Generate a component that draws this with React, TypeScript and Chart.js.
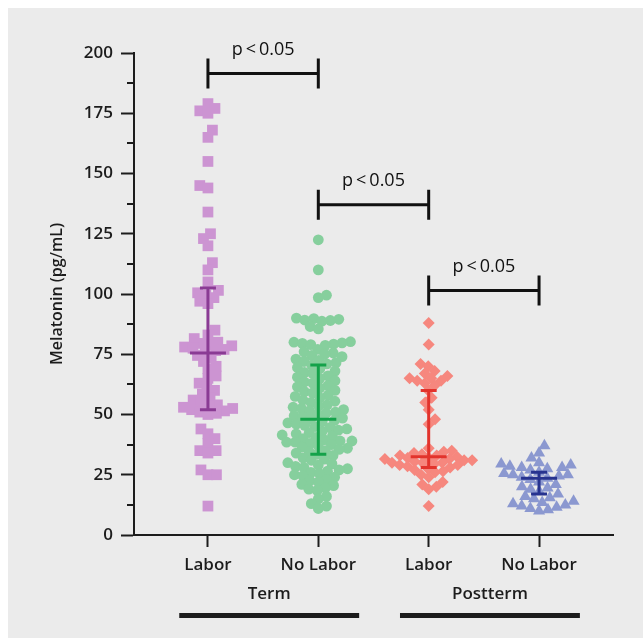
import React, { useEffect, useRef } from 'react';
import { Chart, registerables } from 'chart.js';
Chart.register(...registerables);

// ---------- data ----------
const CATEGORIES = ['Labor', 'No Labor', 'Labor', 'No Labor'];
const GROUPS = ['Term', 'Postterm'];

const TERM_LABOR = [
  179, 177, 176, 175, 168, 165, 155, 145, 144, 134, 125, 123, 120, 113, 110, 105,
  101.5, 100.5, 99.5, 98.5, 97, 96,
  85, 83, 81.5,
  80, 79.5, 79, 78.5, 78, 77.5, 77, 76.5, 76,
  74.5, 73.5, 72, 70, 69,
  66, 65, 63, 61.5, 60, 58.5, 57, 56, 55,
  54, 53.5, 53, 52.5, 52, 51.5, 51, 50.5, 50,
  44, 42, 40, 38, 35, 35, 34, 27, 25, 25, 12,
];
const TERM_NOLABOR = [
  122.5, 110, 99.5, 98.5,
  90, 89.8, 89.5, 89.2, 89, 88.7,
  86.5, 85.5,
  80.2, 80, 79.7, 79.5, 79.2, 79, 78.7,
  77, 76, 75.5, 75, 74.5, 74,
  73, 72.5, 72, 71.5, 71, 70.5,
  69.5, 69, 68, 67.5, 67, 66,
  65.5, 65, 64, 63.5, 63, 62,
  61.5, 61, 60, 59.5, 59, 58,
  57.5, 57, 56, 55.5, 55, 54,
  53.5, 53, 52.5, 52, 51.5, 51, 50.5, 50,
  49.5, 49, 48.5, 48, 47.5, 47, 46.5, 46,
  45.5, 45, 44.5, 44, 43.5, 43, 42.5, 42,
  41.5, 41, 40.5, 40, 39.5, 39, 39, 38.5, 38.5, 38,
  37.5, 37, 36.5, 36, 35.5, 35, 34.5, 34,
  33.5, 33, 32, 31.5, 31, 30,
  29.5, 29, 28.5, 28, 27.5, 27, 26.5, 26,
  25.5, 25, 24.5, 24, 23, 22.5, 22,
  21, 20.5, 19.5, 19, 18.5,
  16, 15, 13, 12, 11,
];
const POST_LABOR = [
  88, 79, 71, 70, 68, 67, 66, 65, 65, 64, 64, 63, 62,
  60, 57, 55, 52, 48, 46,
  36, 35, 34.5, 34, 33.5, 33, 33, 32.5, 32, 32, 31.5, 31.5, 31, 31, 30.5, 30, 30, 30,
  29.5, 29, 29, 28.5, 28, 27.5, 27, 26.5, 26, 25, 24, 22, 21, 20, 19, 12,
];
const POST_NOLABOR = [
  37, 34, 32,
  30, 29.5, 29, 28.5, 28, 28, 27.5, 27,
  26, 25.5, 25, 25, 24.5,
  24, 23.5, 23, 22,
  21, 20, 19.5, 19, 18,
  17, 16, 15.5, 15,
  14, 13.5, 13, 12.5, 12,
  11.5, 11, 10.5, 10,
];

// median and interquartile range per category
const MEDIANS = [75.5, 48, 32.5, 23.5];
const Q_LOW = [52, 33.5, 28, 17];
const Q_HIGH = [102.5, 70.5, 60, 26];

// significance brackets (category index from/to, level)
const BRACKET_FROM = [1, 2, 3];
const BRACKET_TO = [2, 3, 4];
const BRACKET_Y = [191.5, 137, 101.5];
const BRACKET_LABEL = 'p\u2009<\u20090.05';

// ---------- styles ----------
const POINT_STYLES = ['rect', 'circle', 'rectRot', 'triangle'];
const POINT_RADII = [7.6, 5.4, 6, 7];
const SWARM_DIAM = [8.5, 8.5, 8, 9];
const POINT_COLORS = ['#cc94d2', '#86cf9d', '#f6877e', '#8b98d0'];
const BAR_COLORS = ['#8a3b94', '#14a24a', '#e2332c', '#27338f'];
const GROUP_FROM = [0.74, 2.74];
const GROUP_TO = [2.37, 4.37];
const FONT = "'Open Sans', 'Noto Sans', sans-serif";
const INK = '#1c1c1c';

function swarm(values: number[], yPix: (v: number) => number, d: number): number[] {
  const order = values.map((_, i) => i).sort((a, b) => values[a] - values[b]);
  const placed: { x: number; y: number }[] = [];
  const out = new Array(values.length).fill(0);
  let flip = 1;
  for (const i of order) {
    const y = yPix(values[i]);
    const cands: number[] = [0];
    for (const p of placed) {
      const dy = Math.abs(p.y - y);
      if (dy < d) {
        const dx = Math.sqrt(d * d - dy * dy);
        cands.push(p.x + dx, p.x - dx);
      }
    }
    cands.sort((a, b) => {
      const diff = Math.abs(a) - Math.abs(b);
      if (Math.abs(diff) > 0.01) return diff;
      return flip * (b - a);
    });
    let best = 0;
    for (const c of cands) {
      if (placed.every((p) => (p.x - c) ** 2 + (p.y - y) ** 2 >= d * d - 0.01)) {
        best = c;
        break;
      }
    }
    if (best !== 0) flip = -flip;
    placed.push({ x: best, y });
    out[i] = best;
  }
  return out;
}

const overlayPlugin = {
  id: 'overlay',
  afterDraw(chart: any) {
    const { ctx, chartArea } = chart;
    const xs = chart.scales.x;
    const ys = chart.scales.y;
    ctx.save();
    // minor y ticks
    ctx.strokeStyle = INK;
    ctx.lineWidth = 2;
    for (let v = 12.5; v < 200; v += 25) {
      const y = Math.round(ys.getPixelForValue(v));
      ctx.beginPath();
      ctx.moveTo(chartArea.left - 7, y);
      ctx.lineTo(chartArea.left, y);
      ctx.stroke();
    }
    // error bars (median + IQR)
    ctx.lineWidth = 3;
    for (let k = 0; k < MEDIANS.length; k++) {
      const cx = xs.getPixelForValue(k + 1);
      const yl = ys.getPixelForValue(Q_LOW[k]);
      const yh = ys.getPixelForValue(Q_HIGH[k]);
      const ym = ys.getPixelForValue(MEDIANS[k]);
      ctx.strokeStyle = BAR_COLORS[k];
      ctx.beginPath();
      ctx.moveTo(cx, yl);
      ctx.lineTo(cx, yh);
      ctx.moveTo(cx - 8, yl);
      ctx.lineTo(cx + 8, yl);
      ctx.moveTo(cx - 8, yh);
      ctx.lineTo(cx + 8, yh);
      ctx.moveTo(cx - 18, ym);
      ctx.lineTo(cx + 18, ym);
      ctx.stroke();
    }
    // significance brackets
    ctx.strokeStyle = '#111';
    ctx.fillStyle = '#111';
    ctx.lineWidth = 3;
    ctx.font = `500 18px ${FONT}`;
    ctx.textAlign = 'center';
    ctx.textBaseline = 'middle';
    for (let b = 0; b < BRACKET_Y.length; b++) {
      const x1 = xs.getPixelForValue(BRACKET_FROM[b]);
      const x2 = xs.getPixelForValue(BRACKET_TO[b]);
      const y = ys.getPixelForValue(BRACKET_Y[b]);
      ctx.beginPath();
      ctx.moveTo(x1, y);
      ctx.lineTo(x2, y);
      ctx.moveTo(x1, y - 15);
      ctx.lineTo(x1, y + 15);
      ctx.moveTo(x2, y - 15);
      ctx.lineTo(x2, y + 15);
      ctx.stroke();
      ctx.fillText(BRACKET_LABEL, (x1 + x2) / 2, y - 24);
    }
    // group labels with bars
    ctx.font = `600 17px ${FONT}`;
    ctx.fillStyle = INK;
    for (let g = 0; g < GROUPS.length; g++) {
      const x1 = xs.getPixelForValue(GROUP_FROM[g]);
      const x2 = xs.getPixelForValue(GROUP_TO[g]);
      ctx.fillText(GROUPS[g], (x1 + x2) / 2, chartArea.bottom + 59);
      ctx.fillRect(x1, chartArea.bottom + 78, x2 - x1, 5);
    }
    ctx.restore();
  },
};

export default function App() {
  const ref = useRef<HTMLCanvasElement>(null);
  useEffect(() => {
    const series = [TERM_LABOR, TERM_NOLABOR, POST_LABOR, POST_NOLABOR];
    const chart = new Chart(ref.current as HTMLCanvasElement, {
      type: 'scatter',
      data: {
        datasets: series.map((vals, k) => ({
          label: CATEGORIES[k],
          data: vals.map((v) => ({ x: k + 1, y: v })),
          pointStyle: POINT_STYLES[k] as any,
          pointRadius: POINT_RADII[k],
          pointHoverRadius: POINT_RADII[k],
          backgroundColor: POINT_COLORS[k],
          borderWidth: 0,
        })),
      },
      options: {
        animation: false,
        responsive: false,
        events: [],
        layout: { padding: { top: 45, right: 30, left: 0, bottom: 0 } },
        plugins: { legend: { display: false }, tooltip: { enabled: false } },
        scales: {
          x: {
            type: 'linear',
            min: 0.33,
            max: 4.67,
            afterBuildTicks: (scale: any) => {
              scale.ticks = CATEGORIES.map((_, i) => ({ value: i + 1 }));
            },
            afterFit: (scale: any) => {
              scale.height = 103;
            },
            ticks: {
              autoSkip: false,
              maxRotation: 0,
              padding: 8,
              color: INK,
              font: { family: FONT, size: 17, weight: '600' as any },
              callback: (v: any) => CATEGORIES[Math.round(v) - 1] ?? '',
            },
            grid: { drawOnChartArea: false, tickLength: 12, tickWidth: 2, tickColor: INK },
            border: { display: true, width: 2, color: INK },
          },
          y: {
            min: 0,
            max: 200,
            afterFit: (scale: any) => {
              scale.width = 126;
            },
            ticks: {
              stepSize: 25,
              padding: 8,
              color: INK,
              font: { family: FONT, size: 17, weight: '600' as any },
            },
            grid: { drawOnChartArea: false, tickLength: 13, tickWidth: 2, tickColor: INK },
            border: { display: true, width: 2, color: INK },
            title: {
              display: true,
              text: 'Melatonin (pg/mL)',
              color: INK,
              padding: { top: 40, bottom: 0 },
              font: { family: FONT, size: 16, weight: '600' as any },
            },
          },
        },
      },
      plugins: [overlayPlugin],
    });
    const xs: any = chart.scales.x;
    const ys: any = chart.scales.y;
    const ppu = xs.getPixelForValue(2) - xs.getPixelForValue(1);
    series.forEach((vals, k) => {
      const offs = swarm(vals, (v) => ys.getPixelForValue(v), SWARM_DIAM[k]);
      (chart.data.datasets[k] as any).data = vals.map((v, i) => ({ x: k + 1 + offs[i] / ppu, y: v }));
    });
    chart.update();
    return () => chart.destroy();
  }, []);
  return (
    <div style={{ position: 'absolute', left: 8, top: 8, width: 635, height: 630, background: '#ebebeb' }}>
      <canvas ref={ref} width={635} height={630} style={{ display: 'block' }} />
    </div>
  );
}
